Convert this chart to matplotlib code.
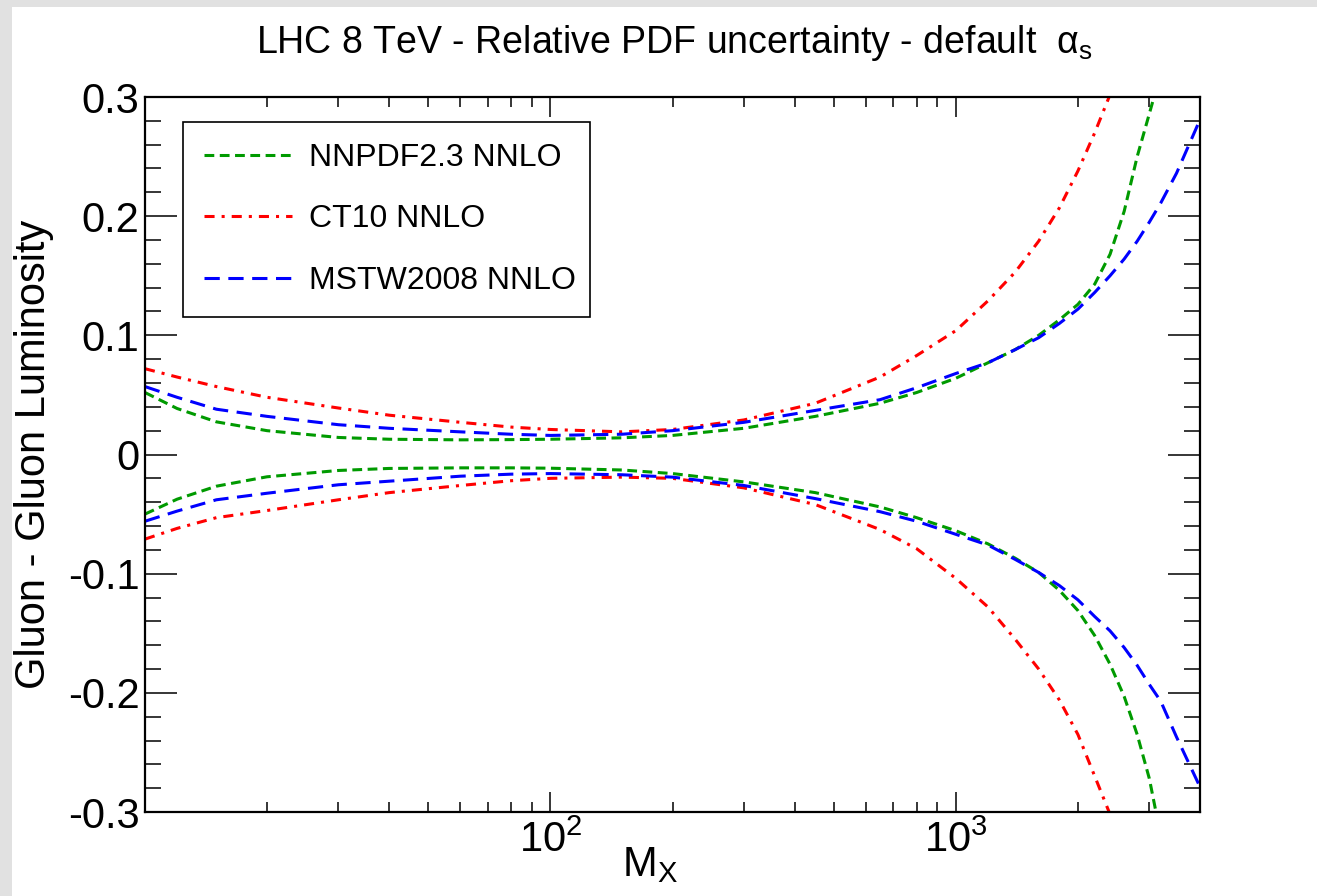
import numpy as np
import matplotlib
matplotlib.use('Agg')
import matplotlib.pyplot as plt
from matplotlib.patches import Rectangle
from matplotlib.ticker import FixedLocator, NullFormatter

plt.rcParams['font.family'] = ['Liberation Sans', 'DejaVu Sans']
plt.rcParams['mathtext.fontset'] = 'custom'
plt.rcParams['mathtext.rm'] = 'Liberation Sans'
plt.rcParams['mathtext.it'] = 'Liberation Sans:italic'
plt.rcParams['mathtext.bf'] = 'Liberation Sans:bold'

nan = np.nan

# invariant mass grid (GeV)
mx = [10, 12, 15, 20, 30, 40, 60, 80, 100, 150, 200, 300, 450, 650, 800, 1000,
      1200, 1400, 1600, 1800, 2000, 2200, 2400, 2600, 2800, 3000, 3200, 3500, 4000]

nnpdf_up = [0.052, 0.0386, 0.0274, 0.020, 0.0143, 0.0128, 0.0123, 0.0125, 0.0128, 0.014, 0.016, 0.022,
            0.032, 0.043, 0.052, 0.064, 0.077, 0.088, 0.100, 0.113, 0.126, 0.143, 0.168, 0.204,
            0.250, 0.286, 0.32, nan, nan]
nnpdf_dn = [-0.050, -0.0375, -0.0266, -0.0187, -0.0134, -0.0117, -0.0112, -0.0112, -0.0115, -0.013, -0.016,
            -0.023, -0.032, -0.044, -0.053, -0.064, -0.075, -0.087, -0.099, -0.114, -0.131, -0.152,
            -0.176, -0.203, -0.235, -0.272, -0.32, nan, nan]

ct10_up = [0.072, 0.065, 0.057, 0.048, 0.039, 0.033, 0.027, 0.023, 0.021, 0.019, 0.021, 0.029, 0.043,
           0.065, 0.083, 0.104, 0.129, 0.153, 0.179, 0.207, 0.238, 0.270, 0.302, 0.34,
           nan, nan, nan, nan, nan]
ct10_dn = [-0.071, -0.062, -0.053, -0.047, -0.038, -0.032, -0.026, -0.022, -0.020, -0.019, -0.020, -0.028,
           -0.042, -0.063, -0.079, -0.104, -0.128, -0.155, -0.180, -0.206, -0.235, -0.270, -0.302,
           -0.34, nan, nan, nan, nan, nan]

mstw_up = [0.057, 0.048, 0.038, 0.032, 0.025, 0.022, 0.019, 0.017, 0.016, 0.017, 0.020, 0.027, 0.037,
           0.046, 0.056, 0.068, 0.077, 0.088, 0.098, 0.110, 0.122, 0.136, 0.150, 0.164, 0.179,
           0.195, 0.211, 0.236, 0.281]
mstw_dn = [-0.056, -0.0475, -0.038, -0.0325, -0.0254, -0.0224, -0.0182, -0.0165, -0.016, -0.017, -0.019,
           -0.026, -0.037, -0.048, -0.056, -0.067, -0.076, -0.088, -0.099, -0.110, -0.122, -0.136,
           -0.148, -0.162, -0.177, -0.193, -0.207, -0.237, -0.279]

labels = ['NNPDF2.3 NNLO', 'CT10 NNLO', 'MSTW2008 NNLO']

fig = plt.figure(figsize=(13.17, 8.96), dpi=100, facecolor='#e1e1e1')
fig.patches.append(Rectangle((12 / 1317, 0), 1, 1 - 7 / 896, transform=fig.transFigure,
                             facecolor='white', edgecolor='none', zorder=-10))

ax = fig.add_axes([145 / 1317, 1 - 812 / 896, 1055 / 1317, 715 / 896])
ax.set_zorder(5)

lw = 2.2
ax.plot(mx, nnpdf_up, color='#009a00', lw=lw, dashes=(3.2, 1.8), label=labels[0])
ax.plot(mx, nnpdf_dn, color='#009a00', lw=lw, dashes=(3.2, 1.8))
ax.plot(mx, ct10_up, color='#ff0000', lw=lw, dashes=(3.3, 2.3, 1, 2.3), label=labels[1])
ax.plot(mx, ct10_dn, color='#ff0000', lw=lw, dashes=(3.3, 2.3, 1, 2.3))
ax.plot(mx, mstw_up, color='#0000ff', lw=lw, dashes=(5, 2.8), label=labels[2])
ax.plot(mx, mstw_dn, color='#0000ff', lw=lw, dashes=(5, 2.8))

ax.set_xscale('log')
ax.set_xlim(10, 4000)
ax.set_ylim(-0.3, 0.3)

ax.xaxis.set_major_locator(FixedLocator([100, 1000]))
ax.set_xticklabels([r'$\mathregular{10^{2}}$', r'$\mathregular{10^{3}}$'])
ax.xaxis.set_minor_locator(FixedLocator([20, 30, 40, 50, 60, 70, 80, 90,
                                         200, 300, 400, 500, 600, 700, 800, 900, 2000, 3000]))
ax.xaxis.set_minor_formatter(NullFormatter())

yt = [-0.3, -0.2, -0.1, 0, 0.1, 0.2, 0.3]
ax.set_yticks(yt)
ax.set_yticklabels(['-0.3', '-0.2', '-0.1', '0', '0.1', '0.2', '0.3'])
ax.set_yticks(np.arange(-0.3, 0.301, 0.02), minor=True)

ax.tick_params(axis='both', which='both', direction='in', top=True, right=True,
               labelsize=30, width=1.1, color='black')
ax.tick_params(axis='x', which='major', length=14.5, pad=6)
ax.tick_params(axis='x', which='minor', length=7)
ax.tick_params(axis='y', which='major', length=23, pad=4)
ax.tick_params(axis='y', which='minor', length=11.5)
for s in ax.spines.values():
    s.set_linewidth(1.6)

ax.set_ylabel('Gluon - Gluon Luminosity', fontsize=30)
ax.yaxis.set_label_coords(-0.086, 0.5)
ax.set_xlabel(r'M$_\mathregular{X}$', fontsize=30)
ax.xaxis.set_label_coords(0.479, -0.046)

fig.text(0.512, 1 - 43 / 896, r'LHC 8 TeV - Relative PDF uncertainty - default  $\mathregular{α_{s}}$',
         ha='center', va='center', fontsize=27)

leg = ax.legend(loc='upper left', bbox_to_anchor=(0.036, 0.3, 0.386, 0.665), mode='expand',
                borderaxespad=0, fontsize=23, frameon=True, fancybox=False, framealpha=1,
                edgecolor='black', handlelength=2.75, handletextpad=0.55, labelspacing=0.98,
                borderpad=0.66)
leg.get_frame().set_linewidth(1.2)

fig.savefig('out.png', dpi=100, facecolor=fig.get_facecolor())
